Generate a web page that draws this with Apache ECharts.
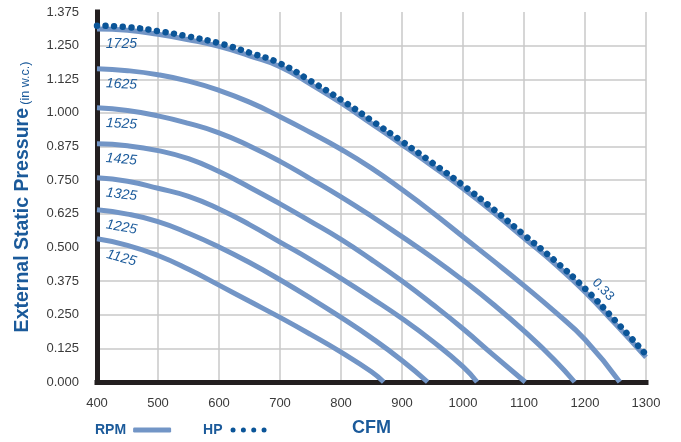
<!DOCTYPE html>
<html>
<head>
<meta charset="utf-8">
<script src="https://cdn.jsdelivr.net/npm/echarts@6/dist/echarts.min.js"></script>
<style>
html,body{margin:0;padding:0;background:#ffffff;}
#chart{width:681px;height:442px;}
</style>
</head>
<body>
<div id="chart"></div>
<script>
// ---- data (CFM, in. w.c.) ----
const rpmNames = ['1725', '1625', '1525', '1425', '1325', '1225', '1125'];
const rpm1725 = [[400,1.312],[450,1.307],[500,1.292],[550,1.272],[600,1.247],[650,1.212],[700,1.172],[750,1.107],[800,1.037],[850,0.960],[900,0.882],[950,0.802],[1000,0.719],[1050,0.630],[1100,0.535],[1150,0.440],[1200,0.335],[1250,0.215],[1300,0.092]];
const rpm1625 = [[400,1.164],[450,1.157],[500,1.142],[550,1.118],[600,1.084],[650,1.040],[700,0.986],[750,0.927],[800,0.865],[850,0.795],[900,0.715],[950,0.630],[1000,0.540],[1050,0.450],[1100,0.358],[1150,0.262],[1200,0.158],[1257,0]];
const rpm1525 = [[400,1.019],[450,1.009],[500,0.989],[550,0.961],[600,0.926],[650,0.877],[700,0.820],[750,0.755],[800,0.688],[850,0.616],[900,0.540],[950,0.462],[1000,0.378],[1050,0.288],[1100,0.190],[1150,0.082],[1183,0]];
const rpm1425 = [[400,0.885],[450,0.878],[500,0.860],[550,0.830],[600,0.782],[650,0.724],[700,0.662],[750,0.597],[800,0.530],[850,0.455],[900,0.375],[950,0.289],[1000,0.198],[1050,0.100],[1102,0]];
const rpm1325 = [[400,0.759],[450,0.746],[500,0.720],[550,0.690],[600,0.643],[650,0.585],[700,0.520],[750,0.455],[800,0.385],[850,0.312],[900,0.236],[950,0.152],[1000,0.057],[1023,0]];
const rpm1225 = [[400,0.640],[450,0.624],[500,0.596],[550,0.553],[600,0.502],[650,0.444],[700,0.380],[750,0.312],[800,0.240],[850,0.164],[900,0.080],[942,0]];
const rpm1125 = [[400,0.532],[450,0.508],[500,0.470],[550,0.419],[600,0.360],[650,0.300],[700,0.240],[750,0.177],[800,0.111],[850,0.038],[870,0]];
const hpName = '0.33';
const hp033 = [[400,1.324],[450,1.319],[500,1.304],[550,1.284],[600,1.259],[650,1.224],[700,1.184],[750,1.119],[800,1.049],[850,0.972],[900,0.894],[950,0.814],[1000,0.731],[1050,0.642],[1100,0.547],[1150,0.452],[1200,0.347],[1250,0.227],[1300,0.102]];
const xTicks = [400, 1300, 100];     // min, max, step (CFM)
const yTicks = [0, 1.375, 0.125];    // min, max, step (in. w.c.)

const rpmCurves = [rpm1725, rpm1625, rpm1525, rpm1425, rpm1325, rpm1225, rpm1125];

// ---- styles ----
const RPM_COLOR = '#7295c6';
const HP_COLOR = '#0b5598';
const TITLE_BLUE = '#1b5a9a';
const LABEL_BLUE = '#1d5c9c';
const FONT = '"Liberation Sans", Arial, Helvetica, sans-serif';
const labelTilt = [0, 3, 3, 5, 7, 10, 15];

const series = rpmCurves.map(d => ({
  type: 'line',
  name: 'RPM',
  data: d,
  smooth: 0.5,
  showSymbol: false,
  silent: true,
  color: RPM_COLOR,
  itemStyle: {color: RPM_COLOR},
  lineStyle: {color: RPM_COLOR, width: 5, cap: 'butt'},
  z: 2
}));
series.push({
  type: 'line',
  name: 'HP',
  data: hp033,
  smooth: 0.5,
  showSymbol: false,
  silent: true,
  color: HP_COLOR,
  itemStyle: {color: HP_COLOR},
  lineStyle: {color: HP_COLOR, width: 6.5, type: [0.01, 8.6], cap: 'round'},
  z: 3
});

const dotIcon = 'path://M0,2.5A2.5,2.5,0,1,0,5,2.5A2.5,2.5,0,1,0,0,2.5ZM10.33,2.5A2.5,2.5,0,1,0,15.33,2.5A2.5,2.5,0,1,0,10.33,2.5ZM20.67,2.5A2.5,2.5,0,1,0,25.67,2.5A2.5,2.5,0,1,0,20.67,2.5ZM31,2.5A2.5,2.5,0,1,0,36,2.5A2.5,2.5,0,1,0,31,2.5Z';

const chart = echarts.init(document.getElementById('chart'), null, {renderer: 'canvas'});
chart.setOption({
  animation: false,
  backgroundColor: '#ffffff',
  textStyle: {fontFamily: FONT},
  grid: {left: 97, right: 35, top: 12, bottom: 60, containLabel: false, outerBoundsMode: 'none'},
  legend: {
    left: 95, top: 423, padding: 0,
    align: 'right',
    itemWidth: 38, itemHeight: 5, itemGap: 32,
    selectedMode: false,
    textStyle: {fontFamily: FONT, fontSize: 14, fontWeight: 'bold', color: TITLE_BLUE, padding: [0, 2, 0, 0]},
    data: [{name: 'RPM', icon: 'roundRect'}, {name: 'HP', icon: dotIcon}]
  },
  xAxis: {
    type: 'value',
    min: xTicks[0], max: xTicks[1], interval: xTicks[2],
    name: 'CFM', nameLocation: 'middle', nameGap: 37,
    nameTextStyle: {fontFamily: FONT, fontSize: 18, fontWeight: 'bold', color: TITLE_BLUE},
    axisLine: {show: true, onZero: false, lineStyle: {color: '#231f20', width: 5, cap: 'square'}},
    axisTick: {show: false},
    axisLabel: {margin: 15, fontFamily: FONT, fontSize: 13, color: '#3a3a3a', formatter: v => String(v)},
    splitLine: {show: true, lineStyle: {color: '#c9c9c9', width: 1.5}}
  },
  yAxis: {
    type: 'value',
    min: yTicks[0], max: yTicks[1], interval: yTicks[2],
    name: '{b|External Static Pressure} {n|(in w.c.)}',
    nameLocation: 'middle', nameGap: 64, nameRotate: 90,
    nameTextStyle: {
      color: TITLE_BLUE,
      rich: {
        b: {fontFamily: FONT, fontSize: 19.5, fontWeight: 'bold', color: TITLE_BLUE},
        n: {fontFamily: FONT, fontSize: 12.5, color: TITLE_BLUE, padding: [5, 0, 0, 0]}
      }
    },
    axisLine: {show: true, onZero: false, lineStyle: {color: '#231f20', width: 5, cap: 'square'}},
    axisTick: {show: false},
    axisLabel: {margin: 18, fontFamily: FONT, fontSize: 13, color: '#3a3a3a', formatter: v => v.toFixed(3)},
    splitLine: {show: true, showMaxLine: false, lineStyle: {color: '#c9c9c9', width: 1.5}}
  },
  series: series
});

// value of a curve at a given CFM (linear between read points), used to anchor text
function valueAt(data, x) {
  for (let i = 1; i < data.length; i++) {
    if (x <= data[i][0]) {
      const a = data[i - 1], b = data[i];
      return a[1] + (b[1] - a[1]) * (x - a[0]) / (b[0] - a[0]);
    }
  }
  return data[data.length - 1][1];
}

const graphics = [];
rpmCurves.forEach((d, i) => {
  const p = chart.convertToPixel({gridIndex: 0}, [440, valueAt(d, 440)]);
  graphics.push({
    type: 'text', x: p[0], y: p[1] + 14, rotation: -labelTilt[i] * Math.PI / 180, z: 10,
    style: {text: rpmNames[i], fontFamily: FONT, fontSize: 14, fontStyle: 'italic', fill: LABEL_BLUE, align: 'center', verticalAlign: 'middle'}
  });
});
const hp = chart.convertToPixel({gridIndex: 0}, [1228, valueAt(hp033, 1228)]);
graphics.push({
  type: 'text', x: hp[0] + 1, y: hp[1] - 17, rotation: -47 * Math.PI / 180, z: 10,
  style: {text: hpName, fontFamily: FONT, fontSize: 13, fill: LABEL_BLUE, align: 'center', verticalAlign: 'middle'}
});
chart.setOption({graphic: graphics});
</script>
</body>
</html>
